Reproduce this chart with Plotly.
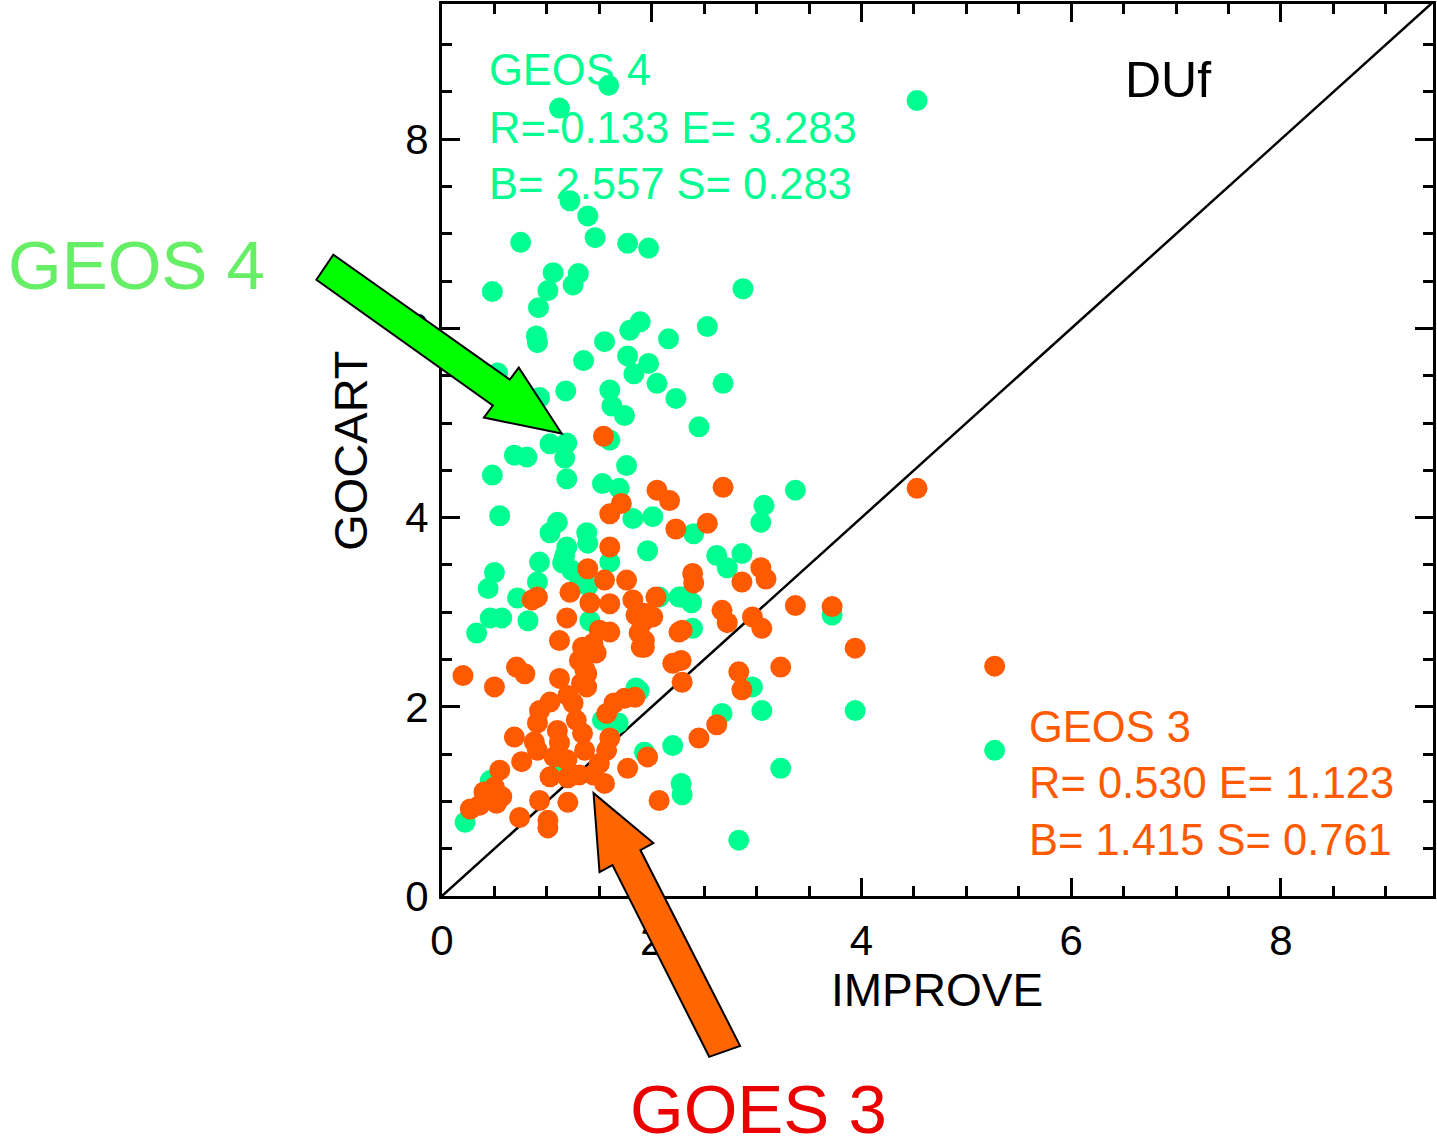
import plotly.graph_objects as go

# ---------------- data (IMPROVE vs GOCART, DUf) ----------------
geos4_x = [1.59, 1.12, 4.53, 1.22, 1.39, 0.75, 1.46, 1.77, 1.97, 0.48, 1.06, 1.30, 1.01, 1.25, 0.92,
           2.87, 0.90, 0.91, 1.55, 1.89, 1.79, 2.16, 2.53, 1.35, 1.77, 1.97, 1.83, 1.18, 1.60, 2.05,
           2.68, 1.62, 1.74, 2.23, 2.45, 0.53, 0.93, 1.03, 1.19, 1.17, 1.19, 0.69, 0.81, 0.48, 1.60,
           1.76, 1.53, 1.69, 0.55, 1.10, 1.82, 2.01, 3.07, 3.37, 3.04, 2.40, 1.03, 1.38, 1.19, 1.39,
           0.93, 1.15, 1.24, 1.60, 1.96, 0.50, 0.44, 0.91, 0.72, 0.46, 0.57, 0.33, 0.82, 1.41, 1.31,
           1.39, 2.26, 1.85, 2.62, 2.86, 2.72, 2.29, 2.38, 2.39, 3.72, 2.07, 2.96, 3.05, 2.67, 2.20,
           1.93, 3.23, 2.28, 2.29, 2.83, 3.94, 5.27, 1.88, 1.53, 1.68, 0.46, 0.22, 1.12, 1.17]
geos4_y = [8.57, 8.33, 8.41, 7.35, 7.19, 6.91, 6.96, 6.90, 6.85, 6.39, 6.59, 6.58, 6.40, 6.46, 6.22,
           6.42, 5.92, 5.85, 5.86, 6.07, 5.98, 5.89, 6.02, 5.66, 5.71, 5.63, 5.52, 5.34, 5.35, 5.42,
           5.42, 5.18, 5.08, 5.26, 4.96, 5.53, 5.27, 4.78, 4.79, 4.63, 4.41, 4.66, 4.64, 4.45, 4.82,
           4.55, 4.36, 4.31, 4.02, 3.95, 3.99, 4.01, 4.13, 4.29, 3.95, 3.83, 3.84, 3.84, 3.69, 3.73,
           3.53, 3.52, 3.44, 3.53, 3.65, 3.42, 3.25, 3.32, 3.15, 2.94, 2.94, 2.78, 2.91, 2.91, 3.31,
           3.28, 3.16, 2.20, 3.60, 3.62, 3.47, 3.16, 3.10, 2.83, 2.97, 3.16, 2.21, 1.96, 1.93, 1.59,
           1.52, 1.35, 1.19, 1.07, 0.59, 1.96, 1.54, 2.17, 1.86, 1.83, 1.22, 0.78, 1.40, 3.60]

geos3_x = [1.54, 4.53, 5.27, 3.94, 3.72, 3.37, 3.23, 2.83, 2.86, 2.05, 2.17, 2.68, 2.23, 2.53, 3.04,
           3.09, 2.86, 2.39, 2.40, 2.04, 1.93, 2.67, 2.72, 2.96, 3.05, 2.29, 1.93, 1.91, 1.93, 2.20,
           2.28, 2.29, 2.62, 2.45, 1.96, 2.07, 1.60, 1.71, 1.60, 1.39, 1.55, 1.76, 1.22, 0.86, 0.91,
           1.41, 1.60, 1.82, 2.01, 1.85, 1.19, 1.50, 1.60, 1.88, 1.90, 1.12, 1.44, 1.47, 1.31, 2.26,
           0.20, 0.71, 0.79, 0.50, 1.12, 1.38, 1.38, 1.03, 1.25, 1.64, 1.74, 1.84, 0.93, 0.91, 0.88,
           0.91, 1.10, 1.12, 1.07, 1.28, 1.34, 1.36, 1.57, 1.60, 1.57, 1.50, 0.69, 0.76, 0.55, 0.50,
           0.36, 0.52, 0.57, 0.46, 0.74, 0.93, 1.01, 1.01, 1.03, 1.20, 1.20, 1.31, 1.44, 1.55, 1.77,
           1.19, 0.27, 0.40, 1.20, 1.34, 1.36, 1.33]
geos3_y = [4.86, 4.31, 2.43, 2.62, 3.06, 3.07, 2.42, 2.37, 2.18, 4.29, 4.18, 4.32, 3.88, 3.94, 3.47,
           3.35, 3.32, 3.41, 3.31, 3.16, 2.99, 3.02, 2.89, 2.95, 2.83, 2.81, 2.70, 2.89, 2.63, 2.46,
           2.49, 2.26, 1.81, 1.67, 1.47, 1.01, 4.04, 4.15, 3.69, 3.46, 3.34, 3.34, 3.21, 3.13, 3.16,
           3.10, 3.09, 3.13, 2.95, 2.97, 2.94, 2.81, 2.79, 2.78, 2.63, 2.70, 2.67, 2.57, 2.49, 2.79,
           2.33, 2.42, 2.35, 2.21, 2.30, 2.35, 2.21, 2.05, 2.04, 2.04, 2.09, 2.10, 1.96, 1.83, 1.63,
           1.54, 1.75, 1.62, 1.47, 1.86, 1.72, 1.54, 1.93, 1.67, 1.54, 1.40, 1.68, 1.42, 1.33, 1.15,
           0.96, 0.98, 1.05, 1.07, 0.83, 1.01, 0.80, 0.72, 1.26, 1.25, 0.99, 1.28, 1.28, 1.19, 1.35,
           1.44, 0.92, 1.10, 2.12, 2.63, 2.40, 2.25]

one_to_one = [0, 9.5]

geos4_stats = ["GEOS 4", "R=-0.133 E= 3.283", "B= 2.557 S= 0.283"]
geos3_stats = ["GEOS 3", "R= 0.530 E= 1.123", "B= 1.415 S= 0.761"]
x_ticks = [0, 2, 4, 6, 8]
y_ticks = [0, 2, 4, 6, 8]

# ---------------- styling ----------------
GREEN = "rgb(0,255,144)"
ORANGE = "rgb(255,90,0)"
FONT = "Liberation Sans, Arial, sans-serif"

W, H = 1437, 1144
L, R, T, B = 442, 1436, 3, 896


def pxx(x):
    return (x - L) / (R - L)


def pxy(y):
    return (B - y) / (B - T)


def path(points):
    return "M " + " L ".join(f"{pxx(a):.5f},{pxy(b):.5f}" for a, b in points) + " Z"


fig = go.Figure()
fig.add_trace(go.Scatter(x=one_to_one, y=one_to_one, mode="lines",
                         line=dict(color="black", width=2.5), hoverinfo="skip"))
fig.add_trace(go.Scatter(x=geos4_x, y=geos4_y, mode="markers",
                         marker=dict(color=GREEN, size=21, line=dict(width=0))))
fig.add_trace(go.Scatter(x=geos3_x, y=geos3_y, mode="markers",
                         marker=dict(color=ORANGE, size=21, line=dict(width=0))))

axis_common = dict(
    showgrid=False, zeroline=False, showline=True, linecolor="black", linewidth=3,
    mirror="ticks", ticks="inside", ticklen=18, tickwidth=3, tickcolor="black",
    tickfont=dict(family=FONT, size=42, color="black"),
    minor=dict(dtick=0.5, ticks="inside", ticklen=10, tickwidth=2.5, tickcolor="black"),
)
fig.update_xaxes(range=[0, 9.45], tickvals=x_ticks, ticklabelstandoff=6, **axis_common)
fig.update_yaxes(range=[0, 9.43], tickvals=y_ticks, ticklabelstandoff=2, **axis_common)

ann = []
for i, t in enumerate(geos4_stats):
    ann.append(dict(text=t, x=pxx(487), y=pxy([69, 127, 183][i]), xref="paper", yref="paper",
                    xanchor="left", yanchor="middle", showarrow=False,
                    font=dict(family=FONT, size=43.5, color=GREEN)))
for i, t in enumerate(geos3_stats):
    ann.append(dict(text=t, x=pxx(1029), y=pxy([727, 783, 840][i]), xref="paper", yref="paper",
                    xanchor="left", yanchor="middle", showarrow=False,
                    font=dict(family=FONT, size=43.5, color=ORANGE)))
ann.append(dict(text="DUf", x=pxx(1125), y=pxy(79), xref="paper", yref="paper",
                xanchor="left", yanchor="middle", showarrow=False,
                font=dict(family=FONT, size=50, color="black")))
ann.append(dict(text="IMPROVE", x=pxx(938), y=pxy(990), xref="paper", yref="paper",
                xanchor="center", yanchor="middle", showarrow=False,
                font=dict(family=FONT, size=46, color="black")))
ann.append(dict(text="GOCART", x=pxx(350), y=pxy(450), xref="paper", yref="paper",
                xanchor="center", yanchor="middle", showarrow=False, textangle=-90,
                font=dict(family=FONT, size=47, color="black")))
ann.append(dict(text="GEOS 4", x=pxx(5), y=pxy(265), xref="paper", yref="paper",
                xanchor="left", yanchor="middle", showarrow=False,
                font=dict(family=FONT, size=69, color="rgb(102,238,102)")))
ann.append(dict(text="GOES 3", x=pxx(629), y=pxy(1110), xref="paper", yref="paper",
                xanchor="left", yanchor="middle", showarrow=False,
                font=dict(family=FONT, size=69, color="rgb(235,0,0)")))

green_arrow = [(333, 254), (510, 379), (519, 367), (562, 433), (484, 417), (493, 405), (316, 279)]
orange_arrow = [(594, 793), (654, 843), (641, 850), (741, 1046), (710, 1057), (613, 865), (600, 872)]
shapes = [
    dict(type="path", xref="paper", yref="paper", path=path(green_arrow),
         fillcolor="rgb(0,255,0)", line=dict(color="black", width=2), layer="above"),
    dict(type="path", xref="paper", yref="paper", path=path(orange_arrow),
         fillcolor="rgb(255,102,0)", line=dict(color="black", width=2), layer="above"),
]

fig.update_layout(
    width=W, height=H, margin=dict(l=L, r=W - R, t=T, b=H - B, pad=0),
    plot_bgcolor="white", paper_bgcolor="white", showlegend=False,
    annotations=ann, shapes=shapes,
)

fig.write_html("out.html")
